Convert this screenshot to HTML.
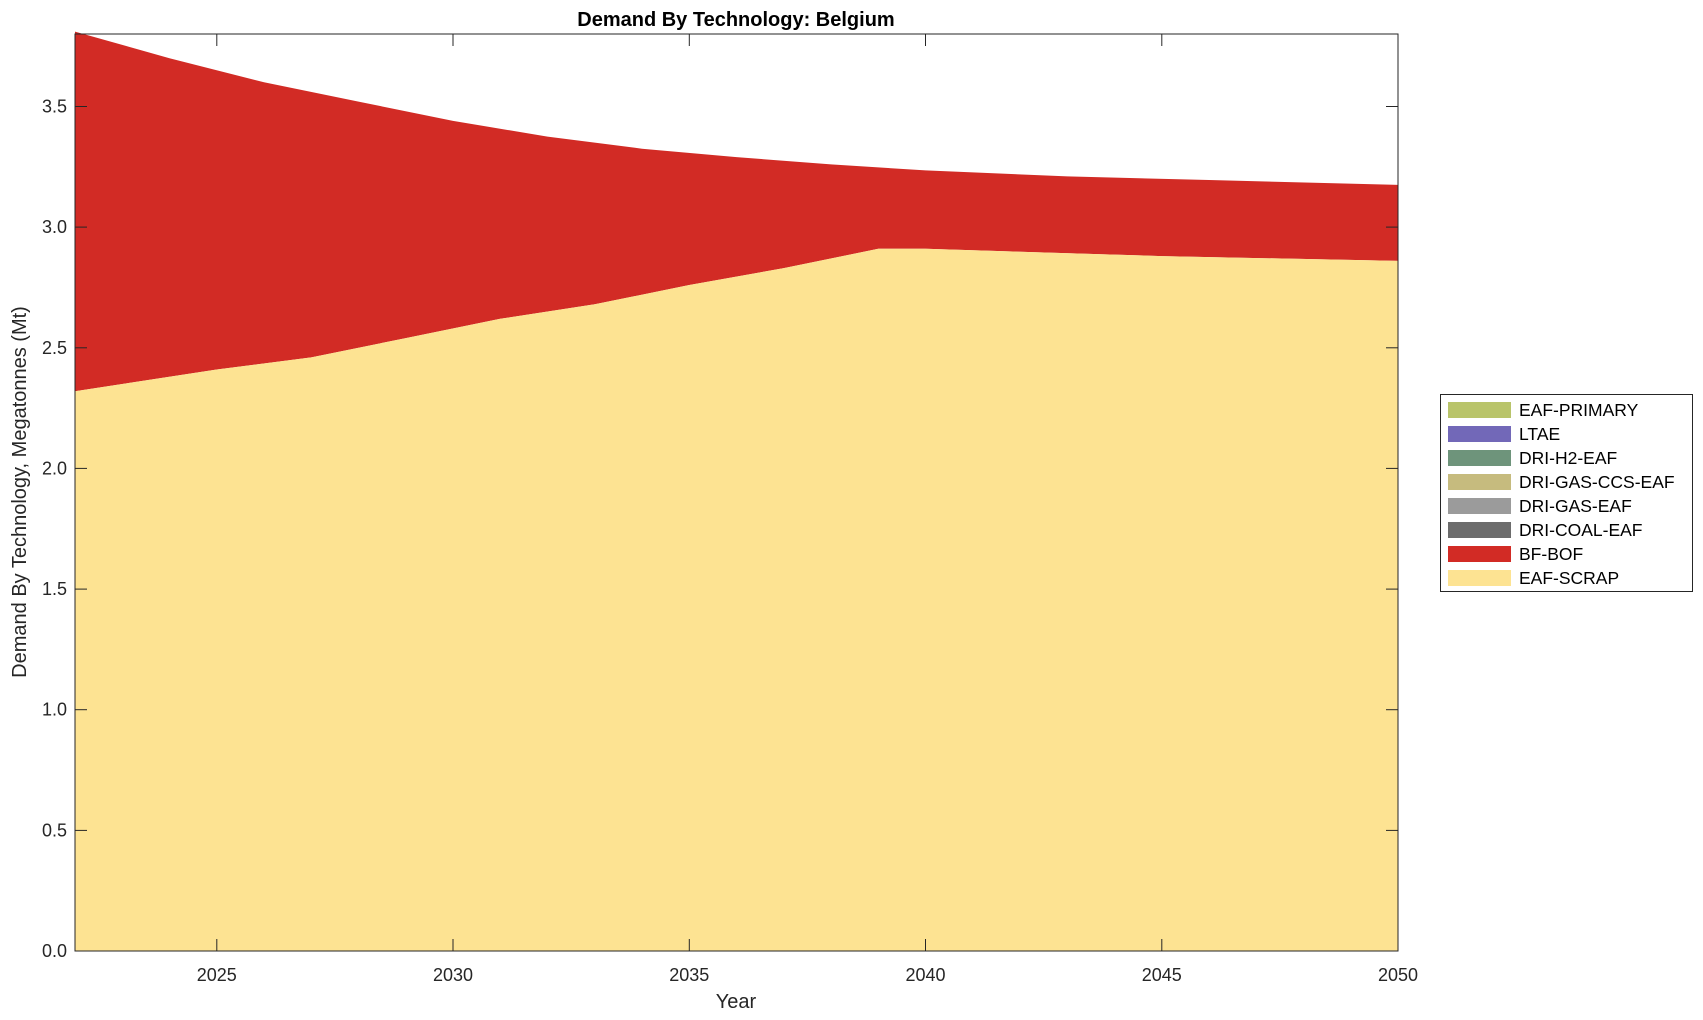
<!DOCTYPE html>
<html><head><meta charset="utf-8"><style>
html,body{margin:0;padding:0;background:#fff;}
svg{display:block;font-family:"Liberation Sans",Arial,sans-serif;}
</style></head><body>
<svg width="1703" height="1020" viewBox="0 0 1703 1020" xmlns="http://www.w3.org/2000/svg">
<rect width="1703" height="1020" fill="#fff"/>
<path fill="#d22b25" d="M75,31.6 L169.5,58.2 L264,82.3 L358.5,101.6 L453,120.9 L547.5,136.6 L642,148.7 L736.5,157.1 L831,164.4 L925.5,170.4 L1067.3,176.4 L1209,180 L1398,184.9 L1398,260.9 L1161.8,256.1 L925.5,248.8 L878.3,248.8 L783.8,268.1 L689.3,285.0 L594.8,304.3 L500.3,318.8 L405.8,338.1 L311.3,357.4 L216.8,369.5 L75,391.2 Z"/>
<path fill="#fde392" d="M75,391.2 L216.8,369.5 L311.3,357.4 L405.8,338.1 L500.3,318.8 L594.8,304.3 L689.3,285.0 L783.8,268.1 L878.3,248.8 L925.5,248.8 L1161.8,256.1 L1398,260.9 L1398,951 L75,951 Z"/>
<rect x="75" y="34" width="1323" height="917" fill="none" stroke="#262626" stroke-width="1"/>
<g stroke="#262626" stroke-width="1">
<line x1="216.8" y1="951" x2="216.8" y2="939"/><line x1="216.8" y1="34" x2="216.8" y2="46"/>
<line x1="453" y1="951" x2="453" y2="939"/><line x1="453" y1="34" x2="453" y2="46"/>
<line x1="689.3" y1="951" x2="689.3" y2="939"/><line x1="689.3" y1="34" x2="689.3" y2="46"/>
<line x1="925.5" y1="951" x2="925.5" y2="939"/><line x1="925.5" y1="34" x2="925.5" y2="46"/>
<line x1="1161.8" y1="951" x2="1161.8" y2="939"/><line x1="1161.8" y1="34" x2="1161.8" y2="46"/>
<line x1="75" y1="830.4" x2="87" y2="830.4"/><line x1="1398" y1="830.4" x2="1386" y2="830.4"/>
<line x1="75" y1="709.7" x2="87" y2="709.7"/><line x1="1398" y1="709.7" x2="1386" y2="709.7"/>
<line x1="75" y1="589.1" x2="87" y2="589.1"/><line x1="1398" y1="589.1" x2="1386" y2="589.1"/>
<line x1="75" y1="468.4" x2="87" y2="468.4"/><line x1="1398" y1="468.4" x2="1386" y2="468.4"/>
<line x1="75" y1="347.8" x2="87" y2="347.8"/><line x1="1398" y1="347.8" x2="1386" y2="347.8"/>
<line x1="75" y1="227.1" x2="87" y2="227.1"/><line x1="1398" y1="227.1" x2="1386" y2="227.1"/>
<line x1="75" y1="106.5" x2="87" y2="106.5"/><line x1="1398" y1="106.5" x2="1386" y2="106.5"/>
</g>
<g font-size="18" fill="#262626" text-anchor="middle">
<text x="216.8" y="981">2025</text><text x="453" y="981">2030</text><text x="689.3" y="981">2035</text>
<text x="925.5" y="981">2040</text><text x="1161.8" y="981">2045</text><text x="1398" y="981">2050</text>
</g>
<g font-size="18" fill="#262626" text-anchor="end">
<text x="67" y="957">0.0</text><text x="67" y="836.4">0.5</text><text x="67" y="715.7">1.0</text>
<text x="67" y="595.1">1.5</text><text x="67" y="474.4">2.0</text><text x="67" y="353.8">2.5</text>
<text x="67" y="233.1">3.0</text><text x="67" y="112.5">3.5</text>
</g>
<text x="736" y="1008" font-size="20" fill="#262626" text-anchor="middle">Year</text>
<text transform="translate(26,492) rotate(-90)" font-size="20" fill="#262626" text-anchor="middle">Demand By Technology, Megatonnes (Mt)</text>
<text x="736" y="26" font-size="20" font-weight="bold" fill="#000" text-anchor="middle">Demand By Technology: Belgium</text>
<rect x="1440.5" y="394.5" width="252" height="197" fill="#fff" stroke="#262626" stroke-width="1"/>
<g>
<rect x="1448" y="402" width="63" height="16" fill="#b9c46a"/>
<rect x="1448" y="426" width="63" height="16" fill="#7268b8"/>
<rect x="1448" y="450" width="63" height="16" fill="#6e947b"/>
<rect x="1448" y="474" width="63" height="16" fill="#c6bb7e"/>
<rect x="1448" y="498" width="63" height="16" fill="#9b9b9b"/>
<rect x="1448" y="522" width="63" height="16" fill="#6c6c6c"/>
<rect x="1448" y="546" width="63" height="16" fill="#d22b25"/>
<rect x="1448" y="570" width="63" height="16" fill="#fde392"/>
</g>
<g font-size="17.5" fill="#000">
<text x="1519" y="416">EAF-PRIMARY</text>
<text x="1519" y="440">LTAE</text>
<text x="1519" y="464">DRI-H2-EAF</text>
<text x="1519" y="488">DRI-GAS-CCS-EAF</text>
<text x="1519" y="512">DRI-GAS-EAF</text>
<text x="1519" y="536">DRI-COAL-EAF</text>
<text x="1519" y="560">BF-BOF</text>
<text x="1519" y="584">EAF-SCRAP</text>
</g>
</svg>
</body></html>
